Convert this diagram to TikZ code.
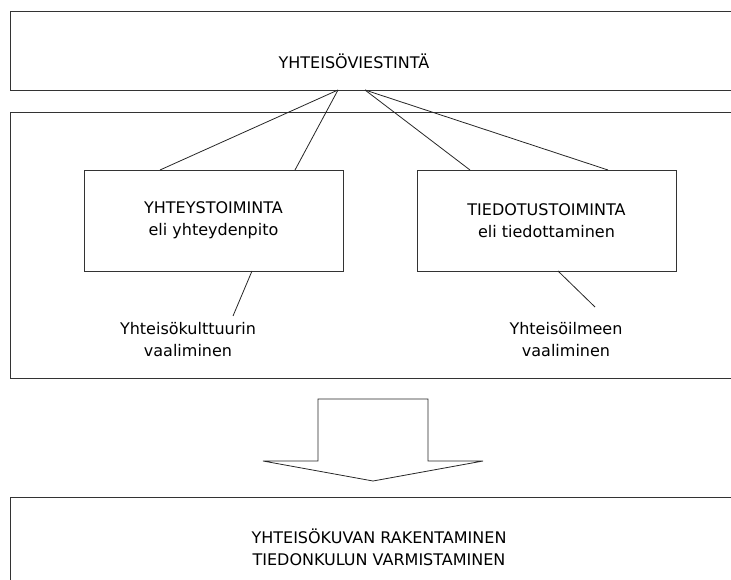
\documentclass[tikz,border=0pt]{standalone}
\usepackage{fontspec}
\setmainfont{DejaVu Sans}
\usepackage{tikz}
\usetikzlibrary{positioning,calc}

\begin{document}
\begin{tikzpicture}[x=1pt,y=-1pt,
    box/.style={draw=black!80,line width=0.9pt,inner sep=0,outer sep=0},
    txt/.style={align=center,inner sep=0,font=\fontsize{16}{22}\selectfont},
    yhd/.style={draw=black!85,line width=0.8pt}]
    \useasboundingbox (0,0) rectangle (731,580);
    \clip (0,0) rectangle (731,580);
    \node[box,anchor=north west,minimum width=740pt,minimum height=79pt] (ylin) at (10.7,11) {};
    \node[txt] (viestinta) at (354,61) {YHTEISÖVIESTINTÄ};
    \node[box,anchor=north west,minimum width=740pt,minimum height=266pt] (keski) at (10.7,112) {};
    \node[box,txt,minimum width=259pt,minimum height=101pt] (yhteys) at (213.5,220.5) {YHTEYSTOIMINTA\\eli yhteydenpito};
    \node[box,txt,minimum width=259pt,minimum height=101pt] (tiedotus) at (546.5,220.5) {TIEDOTUSTOIMINTA\\eli tiedottaminen};
    \node[txt] (kulttuuri) at (188,340) {Yhteisökulttuurin\\vaaliminen};
    \node[txt] (ilme) at (566,340) {Yhteisöilmeen\\vaaliminen};
    \node[box,anchor=north west,minimum width=740pt,minimum height=100pt] (alin) at (10.7,497) {};
    \node[txt] (kuva) at (379,547) {YHTEISÖKUVAN RAKENTAMINEN\\TIEDONKULUN VARMISTAMINEN};
    \coordinate (v1) at (338,90);
    \coordinate (v2) at (365,90);
    \coordinate (k1) at (233,316);
    \coordinate (i1) at (595,307);
    \draw[yhd] (v1) -- ([xshift=-53.5pt]yhteys.north);
    \draw[yhd] (v1) -- ([xshift=81.5pt]yhteys.north);
    \draw[yhd] (v2) -- ([xshift=-76.5pt]tiedotus.north);
    \draw[yhd] (v2) -- ([xshift=61.5pt]tiedotus.north);
    \draw[yhd] ([xshift=38.5pt]yhteys.south) -- (k1);
    \draw[yhd] ([xshift=11.5pt]tiedotus.south) -- (i1);
    \draw[yhd] (318,399) -- (428,399) -- (428,461) -- (483,461) -- (373,481)
        -- (263,461) -- (318,461) -- cycle;
\end{tikzpicture}
\end{document}
